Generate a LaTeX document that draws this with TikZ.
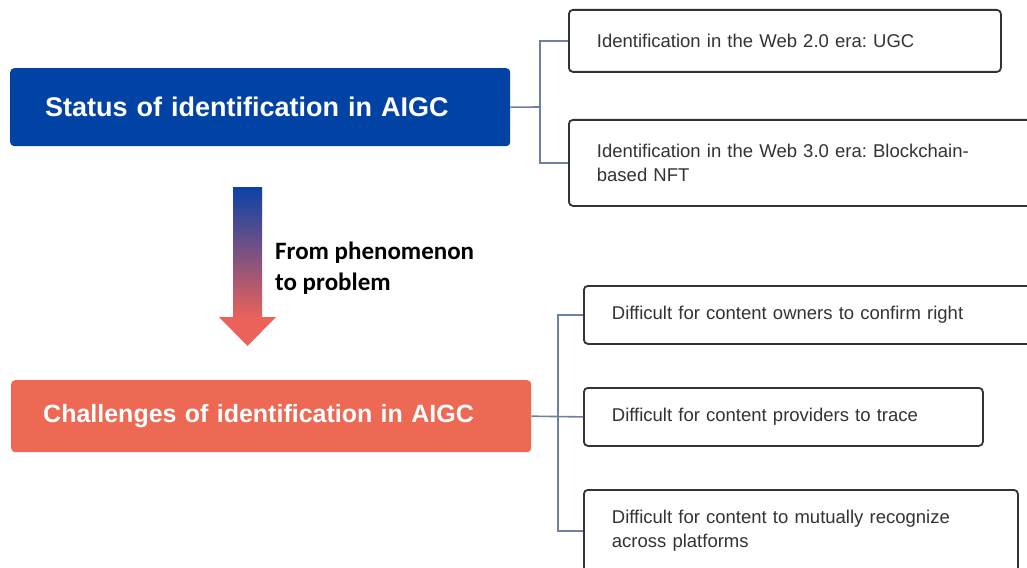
\documentclass[tikz,border=0pt]{standalone}
\usepackage{fontspec}
\setmainfont{Liberation Sans}
\newfontfamily\calib{Carlito}
\definecolor{blueC}{HTML}{0043A5}
\definecolor{orangeC}{HTML}{EE6954}
\definecolor{arrowTop}{HTML}{0A42A8}
\definecolor{arrowBot}{HTML}{EA625A}
\definecolor{connC}{HTML}{6E7FA0}
\definecolor{borderC}{HTML}{333333}
\definecolor{textC}{HTML}{333333}
\frenchspacing
\begin{document}
\begin{tikzpicture}[x=1pt,y=-1pt,
  leaf/.style={draw=borderC, line width=1.8pt, rounded corners=4pt, fill=white,
    font=\fontsize{18.5}{24}\selectfont, text=textC, inner xsep=28pt, inner ysep=0pt,
    align=left, anchor=north west},
  head/.style={rounded corners=4pt, text=white, anchor=north west, inner ysep=0pt, align=left},
  conn/.style={draw=connC, line width=1.6pt}
]
\useasboundingbox (0,0) rectangle (1027,567);
\clip (0,0) rectangle (1027,567);

% main boxes
\node[head, fill=blueC, minimum width=500pt, minimum height=78pt, text width=430pt, inner xsep=35pt,
  font=\fontsize{27}{32}\selectfont\bfseries] (status) at (10,68) {Status of identification in AIGC};
\node[head, fill=orangeC, minimum width=520pt, minimum height=72pt, text width=456pt, inner xsep=32pt,
  font=\fontsize{25}{30}\selectfont\bfseries] (chall) at (11,380) {Challenges of identification in AIGC};

% top leaves
\node[leaf, minimum width=432pt, minimum height=62pt, text width=376pt] (w2) at (568,9)
  {Identification in the Web 2.0 era: UGC};
\node[leaf, minimum width=480pt, minimum height=86pt, text width=424pt] (w3) at (568,119)
  {Identification in the Web 3.0 era: Blockchain-\\based NFT};

% bottom leaves
\node[leaf, minimum width=470pt, minimum height=58pt, text width=414pt] (ca) at (583,285)
  {Difficult for content owners to confirm right};
\node[leaf, minimum width=399pt, minimum height=58pt, text width=343pt] (cb) at (583,387)
  {Difficult for content providers to trace};
\node[leaf, minimum width=434pt, minimum height=82pt, text width=378pt] (cc) at (583,489)
  {Difficult for content to mutually recognize\\across platforms};

% connectors
\coordinate (j1) at (540,107);
\draw[conn] (status.east) -- (j1);
\draw[conn] (w2.west) -| (j1) |- (w3.west);
\coordinate (j2) at (558,416);
\draw[conn] (chall.east) -- (cb.west);
\draw[conn] (ca.west) -| (j2) |- (cc.west);

% gradient arrow
\shade[top color=arrowTop, bottom color=arrowBot] (233,187) rectangle (262,318);
\fill[arrowBot] (219,317) -- (276,317) -- (247.5,346) -- cycle;
\node[anchor=west, align=left, inner sep=0pt, font=\calib\fontsize{25}{31}\selectfont\bfseries] (lab) at (275,268.5)
  {From phenomenon\\to problem};
\end{tikzpicture}
\end{document}
